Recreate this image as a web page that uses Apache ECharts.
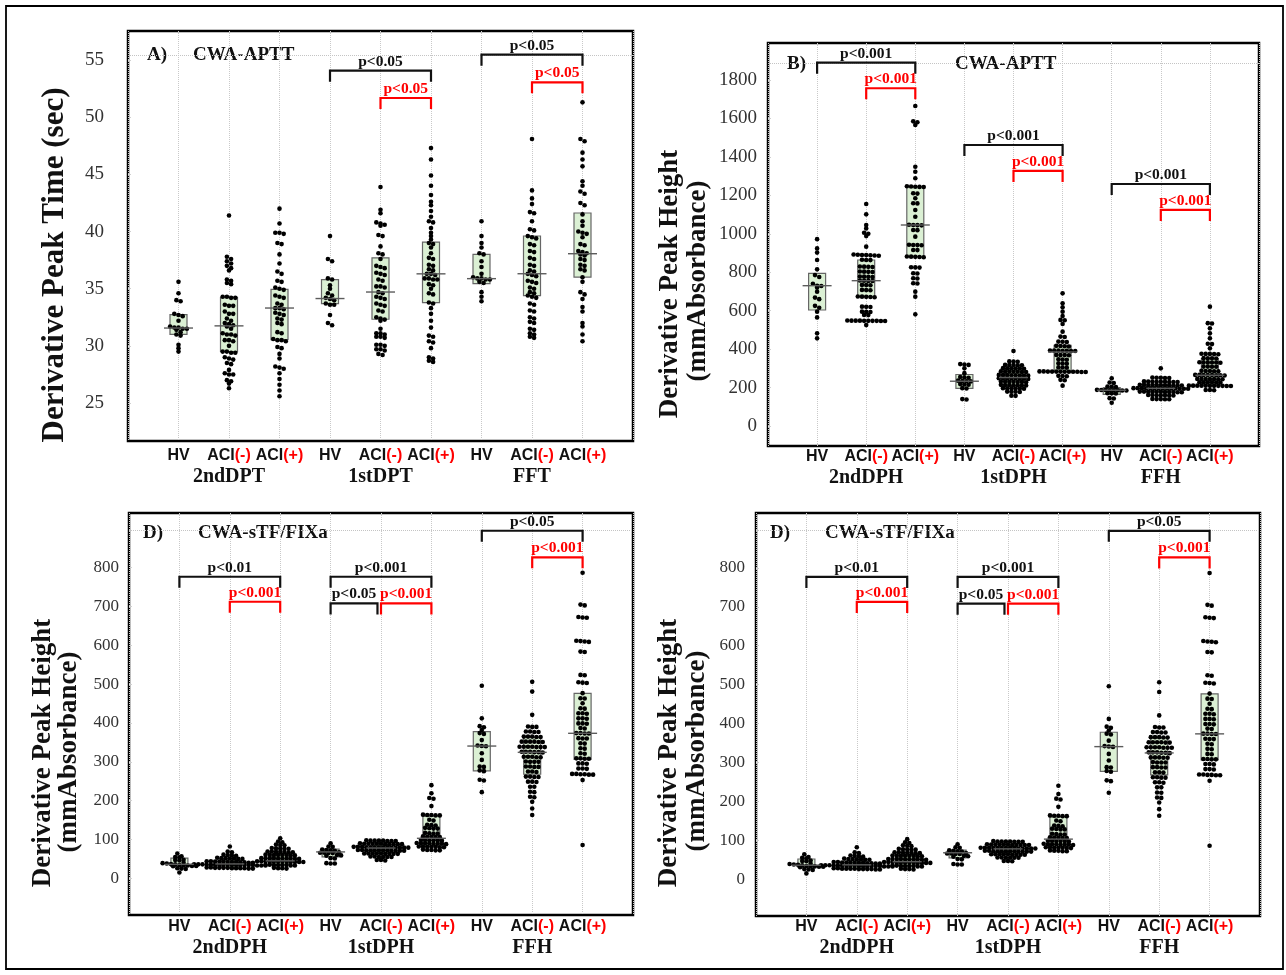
<!DOCTYPE html>
<html>
<head>
<meta charset="utf-8">
<script src="https://cdn.jsdelivr.net/npm/echarts@6.0.0/dist/echarts.min.js"></script>
<style>
html,body{margin:0;padding:0;background:#fff;}
#chart{width:1286px;height:975px;}
</style>
</head>
<body>
<div id="chart"></div>
<script>
// ---------------- DATA ----------------
const CATEGORIES = ['HV', 'ACI(-)', 'ACI(+)'];
const A_GROUPS = ['2ndDPT', '1stDPT', 'FFT'];
const B_GROUPS = ['2ndDPH', '1stDPH', 'FFH'];
const D_GROUPS = ['2ndDPH', '1stDPH', 'FFH'];
const A_TICKS = [25, 30, 35, 40, 45, 50, 55];
const B_TICKS = [0, 200, 400, 600, 800, 1000, 1200, 1400, 1600, 1800];
const D_TICKS = [0, 100, 200, 300, 400, 500, 600, 700, 800];

// Panel A: CWA-APTT derivative peak time (sec)
const A_2ND_HV = [35.6, 34.6, 34.0, 33.9, 32.8, 32.7, 32.6, 32.2, 31.7, 31.6, 31.6, 31.5, 31.5, 31.4, 31.2, 31.0, 30.9, 30.1, 29.8, 29.5];
const A_2ND_NEG = [41.4, 37.8, 37.6, 37.4, 37.2, 37.0, 36.8, 36.6, 35.8, 35.7, 35.5, 35.4, 34.3, 34.3, 34.2, 34.2, 33.6, 33.5, 33.5, 33.0, 32.8, 32.8, 32.4, 32.2, 32.0, 31.9, 31.8, 31.7, 31.5, 31.1, 31.0, 31.0, 30.9, 30.5, 30.5, 30.4, 30.0, 29.5, 29.5, 29.4, 29.4, 29.0, 28.9, 28.8, 28.5, 28.4, 27.9, 27.6, 27.5, 27.5, 27.0, 26.9, 26.7, 26.3];
const A_2ND_POS = [42.0, 40.7, 39.9, 39.9, 39.8, 39.0, 38.9, 38.0, 37.2, 36.5, 36.3, 35.7, 35.6, 35.1, 35.0, 34.9, 34.4, 34.3, 34.2, 33.7, 33.6, 33.3, 33.3, 33.2, 32.9, 32.8, 32.7, 32.4, 32.3, 32.0, 31.9, 31.2, 31.1, 30.6, 30.5, 30.5, 30.4, 29.9, 29.8, 29.3, 28.9, 28.2, 28.1, 28.0, 27.6, 27.1, 26.6, 26.1, 25.6];
const A_1ST_HV = [39.6, 37.6, 37.4, 35.9, 35.8, 35.3, 35.0, 34.6, 34.4, 34.2, 34.1, 34.0, 33.7, 33.6, 33.6, 32.7, 32.0, 31.8];
const A_1ST_NEG = [43.9, 41.9, 41.6, 40.8, 40.7, 40.6, 40.5, 39.7, 39.6, 38.7, 38.1, 38.0, 37.6, 37.0, 36.9, 36.8, 36.4, 36.3, 36.2, 35.8, 35.7, 35.2, 35.2, 35.1, 34.7, 34.6, 34.3, 34.2, 34.1, 33.7, 33.6, 33.5, 33.1, 33.0, 32.5, 32.4, 32.3, 32.2, 31.5, 31.1, 31.1, 31.0, 30.8, 30.8, 30.7, 30.1, 30.1, 30.0, 29.7, 29.7, 29.6, 29.3, 29.2];
const A_1ST_POS = [47.3, 46.3, 44.9, 44.0, 43.2, 42.6, 42.3, 41.8, 41.3, 40.9, 40.8, 40.3, 39.9, 39.6, 39.3, 39.0, 38.9, 38.6, 38.1, 37.7, 37.6, 37.1, 37.0, 36.7, 36.6, 36.3, 36.3, 36.2, 35.9, 35.9, 35.8, 35.8, 35.4, 35.3, 35.0, 34.6, 34.5, 33.8, 33.7, 33.3, 32.8, 32.2, 31.6, 30.9, 30.8, 30.4, 30.3, 29.8, 29.0, 28.9, 28.7, 28.6];
const A_FFT_HV = [40.9, 39.6, 39.0, 38.6, 38.1, 38.0, 37.4, 36.9, 36.3, 36.0, 35.9, 35.9, 35.8, 35.8, 35.6, 35.5, 34.7, 34.3, 33.9];
const A_FFT_NEG = [48.1, 43.6, 42.9, 42.4, 41.7, 41.6, 40.9, 40.2, 40.1, 39.6, 39.5, 39.4, 38.9, 38.8, 38.3, 38.2, 37.7, 37.6, 37.1, 37.0, 36.6, 36.5, 36.3, 36.2, 36.1, 35.7, 35.6, 35.5, 35.1, 35.0, 34.7, 34.6, 34.4, 34.3, 34.2, 33.7, 33.6, 33.1, 33.0, 32.5, 32.4, 32.1, 32.0, 31.5, 31.4, 31.1, 31.0, 30.8, 30.7];
const A_FFT_POS = [51.3, 48.1, 47.9, 46.9, 46.3, 45.7, 44.4, 44.0, 43.5, 43.3, 42.5, 42.3, 41.5, 40.9, 40.5, 40.0, 39.9, 39.8, 39.5, 38.9, 38.8, 38.3, 38.2, 38.1, 38.0, 37.9, 37.6, 37.5, 37.1, 37.0, 36.7, 36.6, 36.0, 35.6, 34.7, 34.5, 34.1, 33.4, 33.0, 32.0, 31.7, 31.0, 30.4];
const A_Q1 = [31.0, 29.5, 30.55, 33.7, 32.33, 33.78, 35.45, 34.39, 36.02];
const A_MED = [31.56, 31.75, 33.31, 34.14, 34.71, 36.3, 35.88, 36.31, 38.06];
const A_Q3 = [32.74, 34.25, 34.95, 35.8, 37.7, 39.08, 38.0, 39.61, 41.62];
const A_SIG_FROM = [4, 5, 7, 8];
const A_SIG_TO = [6, 6, 9, 9];
const A_SIG_LEVEL = [54.07, 51.68, 55.47, 53.05];
const A_SIG_TEXT = ['p<0.05', 'p<0.05', 'p<0.05', 'p<0.05'];
const A_SIG_RED = [false, true, false, true];
const A_TOPLINE = 55.44;

// Panel B: CWA-APTT derivative peak height (mmAbsorbance)
const B_2ND_HV = [972, 924, 902, 864, 815, 785, 775, 740, 730, 728, 720, 699, 668, 660, 625, 615, 595, 565, 482, 456];
const B_2ND_NEG = [1155, 1101, 1046, 1028, 1005, 1000, 988, 933, 892, 891, 890, 889, 888, 887, 886, 865, 864, 863, 830, 829, 828, 827, 804, 803, 802, 801, 778, 777, 776, 775, 757, 756, 755, 754, 734, 733, 732, 708, 707, 706, 674, 673, 672, 671, 670, 621, 620, 619, 595, 594, 593, 578, 577, 549, 548, 548, 548, 547, 547, 547, 547, 546, 546, 525];
const B_2ND_POS = [1665, 1585, 1580, 1566, 1349, 1323, 1289, 1247, 1246, 1245, 1244, 1243, 1211, 1209, 1185, 1159, 1158, 1124, 1089, 1047, 1046, 1045, 1044, 1020, 1019, 985, 943, 942, 941, 940, 916, 915, 882, 881, 880, 879, 878, 826, 825, 824, 795, 793, 769, 767, 743, 741, 699, 673, 581];
const B_1ST_HV = [322, 320, 318, 300, 275, 255, 253, 251, 236, 234, 233, 232, 218, 216, 215, 197, 195, 140, 138];
const B_1ST_NEG = [390, 336, 335, 334, 318, 317, 317, 316, 316, 301, 300, 300, 299, 299, 298, 284, 283, 283, 282, 282, 281, 281, 266, 265, 265, 264, 264, 263, 263, 262, 249, 248, 248, 247, 247, 246, 246, 245, 231, 231, 230, 230, 229, 229, 228, 214, 213, 213, 212, 212, 211, 211, 197, 196, 196, 195, 195, 194, 179, 178, 178, 177, 158, 157];
const B_1ST_POS = [690, 638, 618, 595, 572, 552, 550, 531, 491, 465, 463, 439, 438, 437, 417, 416, 415, 414, 393, 392, 392, 391, 391, 390, 390, 370, 369, 369, 368, 347, 346, 345, 326, 325, 324, 305, 304, 303, 284, 284, 283, 283, 283, 283, 282, 282, 282, 282, 281, 281, 261, 260, 259, 240, 238, 210];
const B_FFH_HV = [248, 226, 224, 205, 204, 203, 188, 187, 187, 186, 186, 186, 185, 185, 171, 170, 169, 145, 143, 121];
const B_FFH_NEG = [300, 252, 251, 251, 250, 250, 232, 231, 231, 230, 230, 230, 229, 229, 229, 214, 214, 213, 213, 213, 212, 212, 212, 211, 211, 211, 197, 197, 197, 196, 196, 196, 196, 195, 195, 195, 195, 194, 194, 194, 179, 179, 178, 178, 178, 178, 177, 177, 177, 176, 176, 161, 161, 160, 160, 160, 159, 159, 141, 140, 140, 139, 139];
const B_FFH_POS = [621, 535, 533, 508, 482, 456, 428, 426, 404, 376, 375, 375, 374, 373, 353, 352, 352, 351, 332, 331, 331, 330, 330, 329, 309, 309, 308, 308, 287, 286, 286, 285, 285, 266, 266, 265, 265, 265, 264, 264, 263, 245, 245, 244, 244, 244, 243, 243, 228, 227, 227, 227, 226, 226, 210, 210, 210, 210, 210, 209, 209, 209, 209, 208, 208, 187, 187, 186];
const B_Q1 = [603.5, 672.8, 880.8, 196, 210, 283, 165, 178, 212];
const B_MED = [730, 756, 1045.7, 233, 252, 385, 186, 196, 264];
const B_Q3 = [794.4, 863.6, 1245, 268, 300, 420, 200, 215, 351];
const B_SIG_FROM = [1, 2, 4, 5, 7, 8];
const B_SIG_TO = [3, 3, 6, 6, 9, 9];
const B_SIG_LEVEL = [1890, 1757, 1462, 1327, 1259, 1124];
const B_SIG_TEXT = ['p<0.001', 'p<0.001', 'p<0.001', 'p<0.001', 'p<0.001', 'p<0.001'];
const B_SIG_RED = [false, true, false, true, false, true];
const B_TOPLINE = 1887;

// Panels D: CWA-sTF/FIXa derivative peak height (mmAbsorbance)
const D_2ND_HV = [64, 57, 55, 54, 48, 47, 46, 40, 39, 38, 37, 36, 34, 33, 33, 32, 32, 31, 26, 25, 24, 15];
const D_2ND_NEG = [82, 69, 67, 61, 60, 59, 58, 53, 52, 52, 51, 51, 50, 50, 44, 44, 43, 43, 43, 42, 42, 42, 41, 41, 40, 40, 36, 36, 36, 35, 35, 35, 35, 35, 35, 34, 34, 34, 34, 34, 34, 33, 33, 33, 28, 28, 27, 27, 27, 27, 26, 26, 26, 26, 25, 25];
const D_2ND_POS = [103, 95, 93, 87, 86, 85, 78, 77, 77, 76, 76, 69, 69, 68, 68, 68, 67, 67, 61, 60, 60, 60, 59, 59, 60, 61, 52, 52, 51, 51, 51, 52, 52, 51, 50, 50, 44, 44, 43, 43, 43, 43, 42, 42, 42, 42, 43, 44, 35, 35, 34, 34, 34, 34, 33, 33, 27, 26, 26, 25];
const D_1ST_HV = [90, 82, 81, 74, 73, 72, 71, 67, 66, 66, 65, 65, 60, 59, 58, 52, 51, 39, 38, 38];
const D_1ST_NEG = [98, 97, 97, 97, 97, 96, 96, 96, 90, 89, 89, 89, 89, 89, 88, 88, 88, 88, 88, 81, 81, 81, 80, 80, 80, 80, 80, 80, 79, 79, 79, 79, 79, 73, 73, 72, 72, 72, 72, 72, 72, 71, 71, 71, 71, 64, 64, 64, 64, 64, 63, 63, 63, 63, 56, 56, 55, 55, 55, 55, 47, 47, 46];
const D_1ST_POS = [240, 219, 207, 205, 186, 164, 163, 163, 162, 162, 151, 149, 138, 137, 136, 130, 129, 128, 128, 117, 116, 115, 115, 108, 107, 107, 106, 106, 99, 99, 98, 98, 98, 97, 91, 90, 90, 90, 89, 89, 89, 88, 82, 82, 81, 81, 81, 80, 80, 74, 73, 73, 72, 72];
const D_FFH_HV = [496, 412, 392, 389, 382, 374, 372, 356, 342, 341, 340, 322, 305, 288, 287, 278, 276, 254, 252, 222];
const D_FFH_NEG = [506, 481, 421, 391, 390, 390, 378, 377, 377, 378, 365, 365, 364, 364, 365, 352, 352, 351, 351, 352, 352, 339, 339, 339, 338, 338, 338, 339, 326, 326, 325, 325, 326, 324, 313, 313, 312, 312, 313, 300, 300, 300, 301, 288, 287, 287, 288, 275, 275, 274, 262, 262, 261, 261, 249, 249, 248, 236, 236, 223, 222, 210, 209, 197, 180, 163];
const D_FFH_POS = [787, 705, 703, 673, 672, 671, 612, 611, 610, 609, 584, 583, 524, 523, 505, 504, 503, 477, 464, 463, 451, 438, 437, 425, 425, 424, 412, 412, 411, 399, 399, 398, 387, 386, 374, 374, 373, 373, 361, 360, 360, 348, 347, 335, 334, 322, 321, 309, 309, 308, 308, 296, 296, 295, 283, 283, 282, 269, 269, 268, 268, 267, 267, 253, 86];
const D_Q1 = [31, 27, 35, 55, 65, 82, 277, 268, 306.5];
const D_MED = [36, 37, 45, 68, 78, 103, 340.7, 324.5, 373.5];
const D_Q3 = [52, 48, 62, 75, 88, 160, 377.6, 363, 476.5];
const D_SIG_FROM = [1, 2, 4, 4, 5, 7, 8];
const D_SIG_TO = [3, 3, 6, 4.93, 6, 9, 9];
const D_SIG_LEVEL = [776.8, 712.4, 776.8, 708, 708, 895.3, 826.8];
const D_SIG_TEXT = ['p<0.01', 'p<0.001', 'p<0.001', 'p<0.05', 'p<0.001', 'p<0.05', 'p<0.001'];
const D_SIG_RED = [false, true, false, false, true, false, true];
const D_TOPLINE = 895.8;

// ---------------- STYLE / LAYOUT ----------------
const SERIF = '"Liberation Serif", "Times New Roman", serif';
const SANS = '"Liberation Sans", Arial, sans-serif';
const RED = '#ff0000';
const INK = '#111111';
const DOT_SIZE = 4.6, BIN_PX = 3.0, STEP_PX = 4.2;
const BOX_W = 17, MED_W = 29, TICK_LEN = 11;

const LAYOUT = [
  {left: 128, top: 31, width: 505, height: 410, yMin: 21.68, yMax: 57.54, labelMargin: 24, tickFont: 19, xMargin: 5},
  {left: 768, top: 43, width: 491, height: 403, yMin: -104, yMax: 1992.5, labelMargin: 11, tickFont: 19, xMargin: 1},
  {left: 129, top: 513, width: 504, height: 402, yMin: -94.5, yMax: 941, labelMargin: 10, tickFont: 17, xMargin: 2},
  {left: 756, top: 513, width: 504, height: 403, yMin: -94.5, yMax: 941, labelMargin: 11, tickFont: 17, xMargin: 1}
];

const PANELS = [
  {groups: A_GROUPS, ticks: A_TICKS, dots: [A_2ND_HV, A_2ND_NEG, A_2ND_POS, A_1ST_HV, A_1ST_NEG, A_1ST_POS, A_FFT_HV, A_FFT_NEG, A_FFT_POS],
   q1: A_Q1, med: A_MED, q3: A_Q3, sigFrom: A_SIG_FROM, sigTo: A_SIG_TO, sigLevel: A_SIG_LEVEL, sigText: A_SIG_TEXT, sigRed: A_SIG_RED, top: A_TOPLINE},
  {groups: B_GROUPS, ticks: B_TICKS, dots: [B_2ND_HV, B_2ND_NEG, B_2ND_POS, B_1ST_HV, B_1ST_NEG, B_1ST_POS, B_FFH_HV, B_FFH_NEG, B_FFH_POS],
   q1: B_Q1, med: B_MED, q3: B_Q3, sigFrom: B_SIG_FROM, sigTo: B_SIG_TO, sigLevel: B_SIG_LEVEL, sigText: B_SIG_TEXT, sigRed: B_SIG_RED, top: B_TOPLINE},
  {groups: D_GROUPS, ticks: D_TICKS, dots: [D_2ND_HV, D_2ND_NEG, D_2ND_POS, D_1ST_HV, D_1ST_NEG, D_1ST_POS, D_FFH_HV, D_FFH_NEG, D_FFH_POS],
   q1: D_Q1, med: D_MED, q3: D_Q3, sigFrom: D_SIG_FROM, sigTo: D_SIG_TO, sigLevel: D_SIG_LEVEL, sigText: D_SIG_TEXT, sigRed: D_SIG_RED, top: D_TOPLINE},
  {groups: D_GROUPS, ticks: D_TICKS, dots: [D_2ND_HV, D_2ND_NEG, D_2ND_POS, D_1ST_HV, D_1ST_NEG, D_1ST_POS, D_FFH_HV, D_FFH_NEG, D_FFH_POS],
   q1: D_Q1, med: D_MED, q3: D_Q3, sigFrom: D_SIG_FROM, sigTo: D_SIG_TO, sigLevel: D_SIG_LEVEL, sigText: D_SIG_TEXT, sigRed: D_SIG_RED, top: D_TOPLINE}
];

const TITLES = [
  {tag: 'A)', tagX: 147, name: 'CWA-APTT', nameX: 193, y: 55},
  {tag: 'B)', tagX: 787, name: 'CWA-APTT', nameX: 955, y: 64},
  {tag: 'D)', tagX: 143, name: 'CWA-sTF/FIXa', nameX: 198, y: 533},
  {tag: 'D)', tagX: 770, name: 'CWA-sTF/FIXa', nameX: 825, y: 533}
];
const YTITLES = [
  [{text: 'Derivative Peak Time (sec)', x: 55, y: 265, size: 31}],
  [{text: 'Derivative Peak Height', x: 670, y: 284, size: 27}, {text: '(mmAbsorbance)', x: 698, y: 281, size: 27}],
  [{text: 'Derivative Peak Height', x: 43, y: 753, size: 27}, {text: '(mmAbsorbance)', x: 69, y: 752, size: 27}],
  [{text: 'Derivative Peak Height', x: 669, y: 753, size: 27}, {text: '(mmAbsorbance)', x: 697, y: 751, size: 27}]
];

// Dot-plot layout: stack values that fall in the same pixel bin side by side
function swarm(vals, cx, pxPerX, pxPerY) {
  const binU = BIN_PX / pxPerY, stepU = STEP_PX / pxPerX;
  const s = vals.slice().sort((a, b) => b - a);
  const out = [];
  let i = 0;
  while (i < s.length) {
    let j = i;
    while (j < s.length && s[i] - s[j] < binU) j++;
    const n = j - i;
    for (let k = 0; k < n; k++) out.push([cx + (k - (n - 1) / 2) * stepU, s[i + k]]);
    i = j;
  }
  return out;
}

function catRich(label) {
  const m = label.match(/^(.*?)(\(.\))$/);
  return m ? '{k|' + m[1] + '}{r|' + m[2] + '}' : '{k|' + label + '}';
}

const grids = [], xAxes = [], yAxes = [], series = [], graphic = [];

PANELS.forEach((P, pi) => {
  const L = LAYOUT[pi];
  grids.push({left: L.left, top: L.top, width: L.width, height: L.height, show: true,
    borderColor: '#000', borderWidth: 2.5, backgroundColor: 'transparent', containLabel: false});
  xAxes.push({
    type: 'value', gridIndex: pi, min: 0, max: 10, interval: 1,
    axisLine: {show: false}, axisTick: {show: false},
    splitLine: {show: true, lineStyle: {type: 'dotted', color: '#c9c9c9', width: 1}},
    axisLabel: {
      show: true, margin: L.xMargin, verticalAlign: 'top',
      formatter: function (v) {
        const i = Math.round(v) - 1;
        if (i < 0 || i > 8) return '';
        let s = catRich(CATEGORIES[i % 3]);
        if (i % 3 === 1) s += '\n{g|' + P.groups[Math.floor(i / 3)] + '}';
        return s;
      },
      rich: {
        k: {fontFamily: SANS, fontWeight: 'bold', fontSize: 16, color: INK, lineHeight: 20},
        r: {fontFamily: SANS, fontWeight: 'bold', fontSize: 16, color: RED, lineHeight: 20},
        g: {fontFamily: SERIF, fontWeight: 'bold', fontSize: 20, color: INK, lineHeight: 22}
      }
    }
  });
  yAxes.push({
    type: 'value', gridIndex: pi, min: L.yMin, max: L.yMax,
    axisLine: {show: false},
    axisTick: {show: true, inside: true, length: 3, lineStyle: {color: '#d0d0d0'}, customValues: P.ticks},
    splitLine: {show: false},
    axisLabel: {show: true, customValues: P.ticks, margin: L.labelMargin,
      formatter: function (v) { return String(Math.round(v)); },
      fontFamily: SERIF, fontSize: L.tickFont, color: '#333'}
  });

  const pxPerX = L.width / 10, pxPerY = L.height / (L.yMax - L.yMin);
  const boxData = [], dotData = [];
  P.dots.forEach((vals, gi) => {
    boxData.push([gi + 1, P.q1[gi], P.med[gi], P.q3[gi]]);
    swarm(vals, gi + 1, pxPerX, pxPerY).forEach(d => dotData.push(d));
  });

  series.push({
    type: 'custom', xAxisIndex: pi, yAxisIndex: pi, z: 2, silent: true,
    data: boxData,
    encode: {x: 0, y: [1, 3]},
    renderItem: function (params, api) {
      const x = api.value(0);
      const top = api.coord([x, api.value(3)]);
      const bot = api.coord([x, api.value(1)]);
      return {type: 'rect', shape: {x: top[0] - BOX_W / 2, y: top[1], width: BOX_W, height: bot[1] - top[1]},
        style: {fill: '#dbf0d4', stroke: '#666', lineWidth: 1.2}};
    }
  });
  series.push({
    type: 'scatter', xAxisIndex: pi, yAxisIndex: pi, z: 3, silent: true,
    symbol: 'circle', symbolSize: DOT_SIZE, itemStyle: {color: '#000', opacity: 1},
    data: dotData,
    markLine: {silent: true, symbol: ['none', 'none'], label: {show: false},
      lineStyle: {type: 'dotted', color: '#c4c4c4', width: 1}, data: [{yAxis: P.top}]}
  });
  series.push({
    type: 'custom', xAxisIndex: pi, yAxisIndex: pi, z: 4, silent: true,
    data: boxData,
    encode: {x: 0, y: 2},
    renderItem: function (params, api) {
      const c = api.coord([api.value(0), api.value(2)]);
      return {type: 'line', shape: {x1: c[0] - MED_W / 2, y1: c[1], x2: c[0] + MED_W / 2, y2: c[1]},
        style: {stroke: '#5c5c5c', lineWidth: 1.4}};
    }
  });
  series.push({
    type: 'custom', xAxisIndex: pi, yAxisIndex: pi, z: 5, silent: true, clip: false,
    data: P.sigFrom.map((f, i) => [f, P.sigLevel[i], P.sigTo[i]]),
    encode: {x: [0, 2], y: 1},
    renderItem: function (params, api) {
      const i = params.dataIndex;
      const col = P.sigRed[i] ? RED : INK;
      const a = api.coord([api.value(0), api.value(1)]);
      const b = api.coord([api.value(2), api.value(1)]);
      return {type: 'group', children: [
        {type: 'polyline', shape: {points: [[a[0], a[1] + TICK_LEN], [a[0], a[1]], [b[0], b[1]], [b[0], b[1] + TICK_LEN]]},
          style: {stroke: col, lineWidth: 2.2, fill: null}},
        {type: 'text', style: {text: P.sigText[i], x: (a[0] + b[0]) / 2, y: a[1] - 1,
          align: 'center', verticalAlign: 'bottom', fontFamily: SERIF, fontWeight: 'bold', fontSize: 15.5, fill: col}}
      ]};
    }
  });

  const T = TITLES[pi];
  graphic.push({type: 'text', x: T.tagX, y: T.y, style: {text: T.tag, fontFamily: SERIF, fontWeight: 'bold', fontSize: 19, fill: INK, verticalAlign: 'middle', align: 'left'}});
  graphic.push({type: 'text', x: T.nameX, y: T.y, style: {text: T.name, fontFamily: SERIF, fontWeight: 'bold', fontSize: 19, fill: INK, verticalAlign: 'middle', align: 'left'}});
  YTITLES[pi].forEach(t => {
    graphic.push({type: 'text', x: t.x, y: t.y, rotation: Math.PI / 2,
      style: {text: t.text, fontFamily: SERIF, fontWeight: 'bold', fontSize: t.size, fill: INK, align: 'center', verticalAlign: 'middle'}});
  });
});

graphic.push({type: 'rect', shape: {x: 6, y: 6, width: 1277, height: 963}, style: {fill: 'none', stroke: '#000', lineWidth: 1.8}, z: -1});

const chart = echarts.init(document.getElementById('chart'), null, {renderer: 'canvas'});
chart.setOption({
  animation: false,
  backgroundColor: '#fff',
  grid: grids, xAxis: xAxes, yAxis: yAxes, series: series, graphic: graphic
});
</script>
</body>
</html>
